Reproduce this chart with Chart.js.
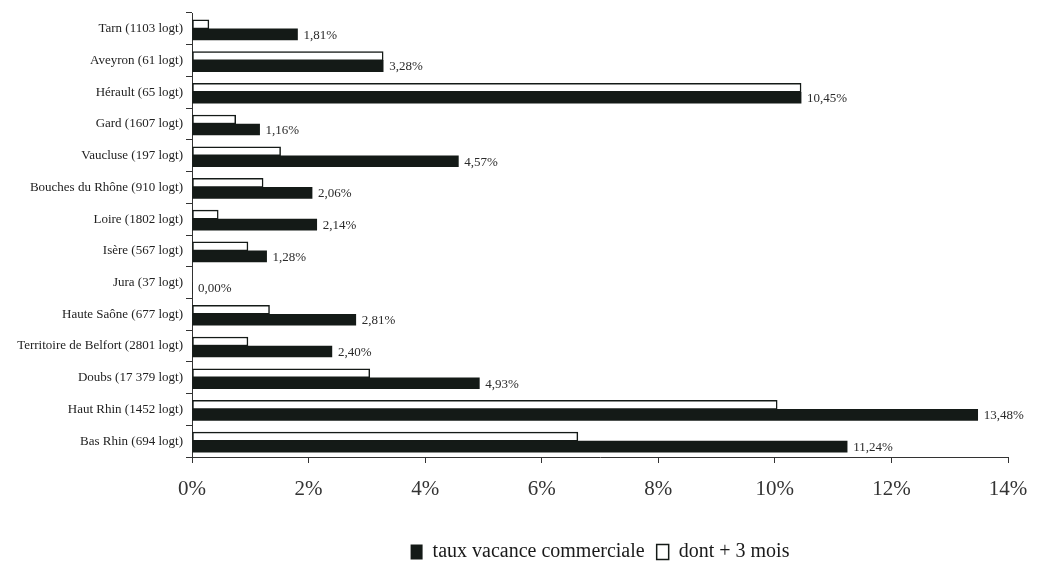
<!DOCTYPE html>
<html>
<head>
<meta charset="utf-8">
<title>taux vacance commerciale</title>
<script src="https://cdn.jsdelivr.net/npm/chart.js@4.4.0/dist/chart.umd.min.js"></script>
<style>
  body { margin: 0; background: #fff; }
  #wrap { width: 1053px; height: 563px; position: relative; }
</style>
</head>
<body>
<div id="wrap"><canvas id="vacanceChart"></canvas></div>
<script>
"use strict";

// departements, top to bottom
const categories = [
  'Tarn (1103 logt)',
  'Aveyron (61 logt)',
  'Hérault (65 logt)',
  'Gard (1607 logt)',
  'Vaucluse (197 logt)',
  'Bouches du Rhône (910 logt)',
  'Loire (1802 logt)',
  'Isère (567 logt)',
  'Jura (37 logt)',
  'Haute Saône (677 logt)',
  'Territoire de Belfort (2801 logt)',
  'Doubs (17 379 logt)',
  'Haut Rhin (1452 logt)',
  'Bas Rhin (694 logt)'
];

// taux vacance commerciale (%)
const tauxVacance = [1.81, 3.28, 10.45, 1.16, 4.57, 2.06, 2.14, 1.28, 0.00, 2.81, 2.40, 4.93, 13.48, 11.24];

// dont + 3 mois (%)
const plusTroisMois = [0.29, 3.28, 10.45, 0.75, 1.52, 1.22, 0.45, 0.96, 0.00, 1.33, 0.96, 3.05, 10.04, 6.62];

// x axis ticks (%)
const xTicks = [0, 2, 4, 6, 8, 10, 12, 14];

const serif = "'Liberation Serif', 'DejaVu Serif', serif";

// writes the value next to each black bar
const valueLabels = {
  id: 'valueLabels',
  afterDatasetsDraw(chart) {
    const c = chart.ctx;
    const meta = chart.getDatasetMeta(1);
    c.save();
    c.font = '13px ' + serif;
    c.fillStyle = '#2a2a2a';
    c.textAlign = 'left';
    c.textBaseline = 'middle';
    meta.data.forEach(function (bar, i) {
      const txt = tauxVacance[i].toFixed(2).replace('.', ',') + '%';
      c.fillText(txt, bar.x + 6, bar.y + 1);
    });
    c.restore();
  }
};

const ctx = document.getElementById('vacanceChart').getContext('2d');

const vacanceChart = new Chart(ctx, {
  type: 'bar',
  data: {
    labels: categories,
    datasets: [
      {
        label: 'dont + 3 mois',
        data: plusTroisMois,
        backgroundColor: '#ffffff',
        borderColor: '#141a17',
        borderWidth: 1.5,
        borderSkipped: false,
        barThickness: 9
      },
      {
        label: 'taux vacance commerciale',
        data: tauxVacance,
        backgroundColor: '#141a17',
        borderColor: '#141a17',
        borderWidth: 0,
        barThickness: 11
      }
    ]
  },
  options: {
    indexAxis: 'y',
    responsive: true,
    maintainAspectRatio: false,
    animation: false,
    layout: { padding: { top: 13, right: 45, left: 0, bottom: -9 } },
    plugins: {
      tooltip: { enabled: false },
      legend: {
        position: 'bottom',
        reverse: true,
        fullSize: false,
        labels: {
          boxWidth: 12,
          boxHeight: 15,
          padding: 12,
          color: '#1a1a1a',
          font: { family: serif, size: 20 }
        }
      }
    },
    scales: {
      x: {
        min: 0,
        max: 14,
        afterBuildTicks: function (scale) {
          scale.ticks = xTicks.map(v => ({ value: v }));
        },
        afterFit: function (scale) { scale.height = 73; },
        grid: { drawOnChartArea: false, tickLength: 6, color: '#333' },
        border: { display: true, color: '#333', width: 1 },
        ticks: {
          padding: 14,
          color: '#333',
          font: { family: serif, size: 21 },
          callback: function (v) { return v + '%'; }
        }
      },
      y: {
        afterFit: function (scale) { scale.width = 192; },
        grid: { drawOnChartArea: false, tickLength: 6, color: '#333', offset: true },
        border: { display: true, color: '#333', width: 1 },
        ticks: {
          padding: 3,
          color: '#222',
          autoSkip: false,
          font: { family: serif, size: 13 }
        }
      }
    }
  },
  plugins: [valueLabels]
});
</script>
</body>
</html>
